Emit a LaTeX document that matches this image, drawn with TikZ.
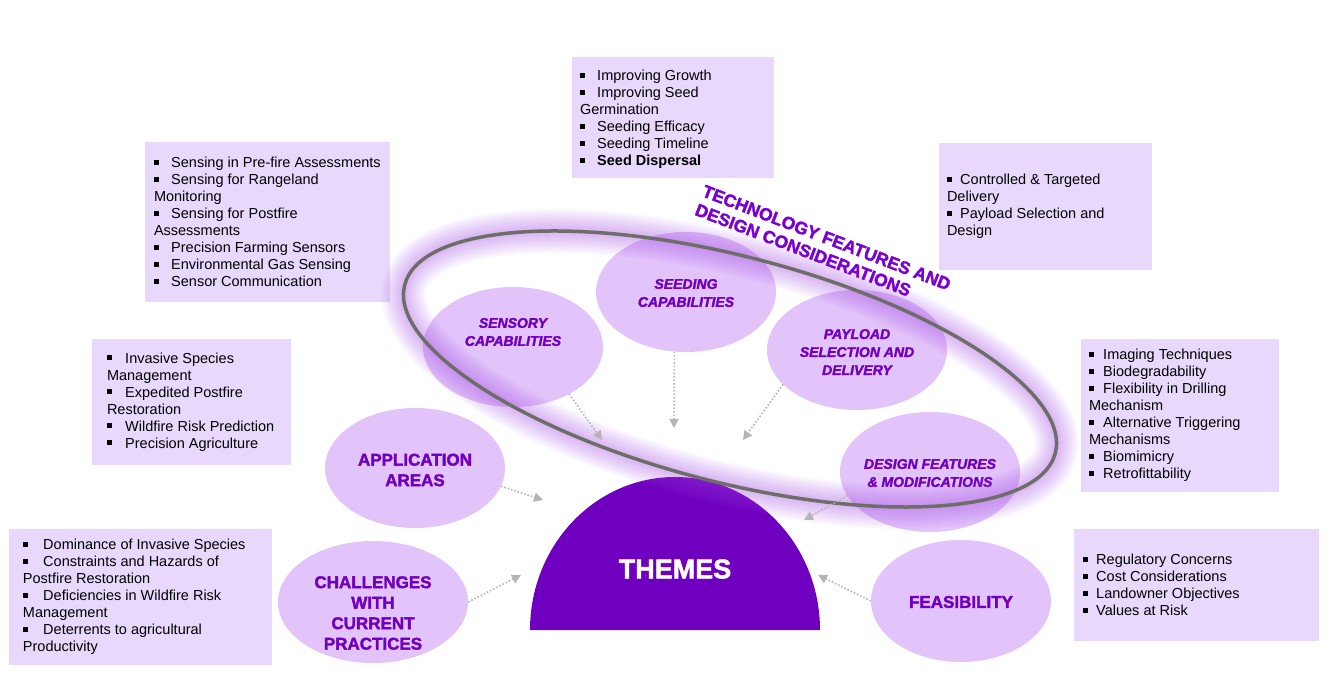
\documentclass[tikz,border=0pt]{standalone}
\usepackage{fontspec}
\setmainfont{Liberation Sans}
\newfontfamily\heavyfont{Liberation Sans Bold}[FakeBold=2]
\newfontfamily\heavyitfont{Liberation Sans Bold Italic}[FakeBold=2]
\usetikzlibrary{shapes.geometric, arrows.meta, calc}
\definecolor{boxfill}{HTML}{E8D8FC}
\definecolor{ovalfill}{HTML}{E2C3FA}
\definecolor{deeppurple}{HTML}{7000C0}
\definecolor{titlepurple}{HTML}{7A00D4}
\definecolor{ringgray}{HTML}{6E6E68}
\definecolor{arrowgray}{HTML}{B4B4B4}
\definecolor{glowpurple}{HTML}{A64DEB}
\newcommand{\sqbul}[1][12pt]{\rule[0.2em]{0.36em}{0.36em}\hspace{#1}}

\begin{document}
\begin{tikzpicture}[x=1pt, y=1pt,
  listbox/.style={rectangle, fill=boxfill, inner sep=0pt},
  listtext/.style={anchor=west, align=left, inner sep=0pt, font=\fontsize{14.5}{17}\selectfont},
  oval/.style={ellipse, fill=ovalfill, inner sep=0pt, minimum width=180, minimum height=120, text=deeppurple, align=center},
  techlabel/.style={font=\fontsize{14}{18}\selectfont\heavyitfont, text=deeppurple, align=center},
  mainlabel/.style={font=\fontsize{17}{20.5}\selectfont\heavyfont, text=deeppurple, align=center},
  flow/.style={draw=arrowgray, line width=1.6pt, dash pattern=on 1.5pt off 2pt, -{Triangle[length=9pt, width=9pt]}}]
  \useasboundingbox[fill=white] (0,0) rectangle (1339,678);

  \node[listbox, minimum width=202, minimum height=121] (seedbox) at (673,560.5) {};
  \node[listtext] (seedlist) at ([xshift=8,yshift=-2]seedbox.west) {\sqbul Improving Growth\\ \sqbul Improving Seed\\ Germination\\ \sqbul Seeding Efficacy\\ \sqbul Seeding Timeline\\ \sqbul\textbf{Seed Dispersal}};
  \node[listbox, minimum width=245, minimum height=160] (sensbox) at (267.5,456) {};
  \node[listtext] (senslist) at ([xshift=9]sensbox.west) {\sqbul Sensing in Pre-fire Assessments\\ \sqbul Sensing for Rangeland\\ Monitoring\\ \sqbul Sensing for Postfire\\ Assessments\\ \sqbul Precision Farming Sensors\\ \sqbul Environmental Gas Sensing\\ \sqbul Sensor Communication};
  \node[listbox, minimum width=213, minimum height=127] (paybox) at (1045.5,471.5) {};
  \node[listtext] (paylist) at ([xshift=8]paybox.west) {\sqbul[8pt]Controlled \& Targeted\\ Delivery\\ \sqbul[8pt]Payload Selection and\\ Design};
  \node[listbox, minimum width=199, minimum height=126] (appbox) at (191.5,276) {};
  \node[listtext] (applist) at ([xshift=15]appbox.west) {\sqbul[13pt]Invasive Species\\ Management\\ \sqbul[13pt]Expedited Postfire\\ Restoration\\ \sqbul[13pt]Wildfire Risk Prediction\\ \sqbul[13pt]Precision Agriculture};
  \node[listbox, minimum width=198, minimum height=153] (desbox) at (1180,262.5) {};
  \node[listtext] (deslist) at ([xshift=8]desbox.west) {\sqbul[9pt]Imaging Techniques\\ \sqbul[9pt]Biodegradability\\ \sqbul[9pt]Flexibility in Drilling\\ Mechanism\\ \sqbul[9pt]Alternative Triggering\\ Mechanisms\\ \sqbul[9pt]Biomimicry\\ \sqbul[9pt]Retrofittability};
  \node[listbox, minimum width=263, minimum height=136] (chalbox) at (140.5,81) {};
  \node[listtext] (challist) at ([xshift=14]chalbox.west) {\sqbul[15pt]Dominance of Invasive Species\\ \sqbul[15pt]Constraints and Hazards of\\ Postfire Restoration\\ \sqbul[15pt]Deficiencies in Wildfire Risk\\ Management\\ \sqbul[15pt]Deterrents to agricultural\\ Productivity};
  \node[listbox, minimum width=245, minimum height=112] (feasbox) at (1196.5,93) {};
  \node[listtext] (feaslist) at ([xshift=9]feasbox.west) {\sqbul[8pt]Regulatory Concerns\\ \sqbul[8pt]Cost Considerations\\ \sqbul[8pt]Landowner Objectives\\ \sqbul[8pt]Values at Risk};

  \node[oval] (sensory) at (513,331) {};
  \node[oval] (seeding) at (686,386) {};
  \node[oval] (payload) at (857,328) {};
  \node[oval] (design) at (930,206) {};
  \node[oval] (application) at (415,210) {};
  \node[oval, minimum width=190, minimum height=122] (challenges) at (373,76) {};
  \node[oval, minimum height=122] (feasibility) at (961,77) {};
  \node[techlabel] (sensorytext) at ([yshift=15]sensory.center) {SENSORY\\CAPABILITIES};
  \node[techlabel] (seedingtext) at ([yshift=-1]seeding.center) {SEEDING\\CAPABILITIES};
  \node[techlabel] (payloadtext) at ([yshift=-2]payload.center) {PAYLOAD\\SELECTION AND\\DELIVERY};
  \node[techlabel] (designtext) at ([yshift=-1]design.center) {DESIGN FEATURES\\\& MODIFICATIONS};
  \node[mainlabel] (applicationtext) at ([yshift=-2]application.center) {APPLICATION\\AREAS};
  \node[mainlabel] (challengestext) at ([yshift=-11]challenges.center) {CHALLENGES\\WITH\\CURRENT\\PRACTICES};
  \node[mainlabel] (feasibilitytext) at ([yshift=-1]feasibility.center) {FEASIBILITY};

  \fill[deeppurple] (530,48) arc[start angle=180, end angle=0, x radius=145, y radius=153] -- cycle;
  \node[font=\fontsize{27}{30}\selectfont\heavyfont, text=white] (themes) at (675,109) {THEMES};

  \foreach \w in {4,8,...,44}
    \draw[glowpurple, line width=\w pt, opacity=0.045, rotate around={-14.5:(730,309)}] (730,309) ellipse [x radius=336, y radius=113];
  \draw[ringgray, line width=3.5pt, rotate around={-14.5:(730,309)}] (730,309) ellipse [x radius=336, y radius=113];

  \coordinate (sensend) at (602,238);
  \coordinate (seedend) at (674,250);
  \coordinate (payend) at (743,238);
  \coordinate (desend) at (804,158);
  \coordinate (append) at (543,178);
  \coordinate (chalend) at (521,103);
  \coordinate (feasend) at (818,103);
  \draw[flow] (sensory.-40) -- (sensend);
  \draw[flow] (seeding.-101) -- (seedend);
  \draw[flow] (payload.-155) -- (payend);
  \draw[flow] (design.-164) -- (desend);
  \draw[flow] (application.-12) -- (append);
  \draw[flow] (challenges.east) -- (chalend);
  \draw[flow] (feasibility.west) -- (feasend);

  \node[font=\fontsize{17.5}{20}\selectfont\heavyfont, text=titlepurple, rotate=-21, align=left] (techtitle) at (823,431) {TECHNOLOGY FEATURES AND\\DESIGN CONSIDERATIONS};
\end{tikzpicture}
\end{document}
